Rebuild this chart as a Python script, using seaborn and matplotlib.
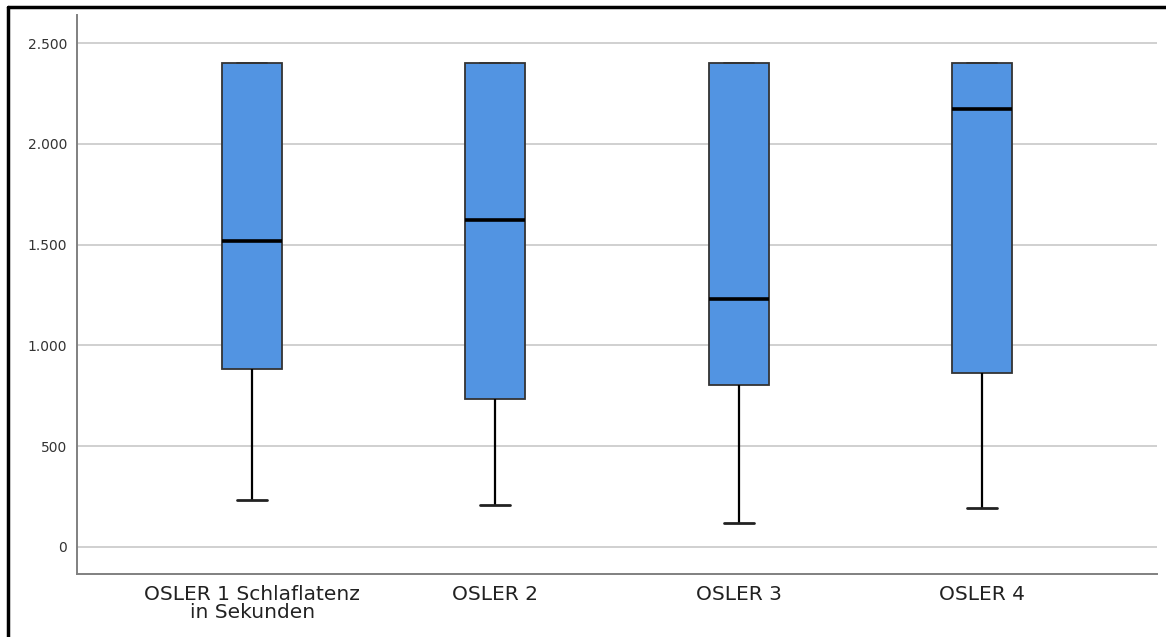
import numpy as np
import pandas as pd
import matplotlib
matplotlib.use("Agg")
import matplotlib.pyplot as plt
import matplotlib.ticker as mticker
from matplotlib.lines import Line2D
import seaborn as sns

# Five-number summaries (seconds)
categories = ["OSLER 1 Schlaflatenz\nin Sekunden", "OSLER 2", "OSLER 3", "OSLER 4"]
minimum = [233, 208, 119, 193]
q1 = [883, 736, 804, 863]
median = [1518, 1620, 1230, 2173]
q3 = [2400, 2400, 2400, 2400]
maximum = [2400, 2400, 2400, 2400]
y_ticks = [0, 500, 1000, 1500, 2000, 2500]

rows = []
for i, c in enumerate(categories):
    for v in (minimum[i], q1[i], median[i], q3[i], maximum[i]):
        rows.append({"group": c, "value": v})
df = pd.DataFrame(rows)

sns.set_style("white")
plt.rcParams["font.family"] = ["DejaVu Sans"]

fig = plt.figure(figsize=(11.66, 6.37), dpi=100)
ax = fig.add_axes([77 / 1166, 1 - 574 / 637, (1157 - 77) / 1166, (574 - 15) / 637])

sns.boxplot(
    data=df, x="group", y="value", order=categories, ax=ax,
    whis=np.inf, width=0.247, color="#5294e2", saturation=1,
    linecolor="#222222", linewidth=1.3,
    boxprops=dict(facecolor="#5294e2", edgecolor="#333333", linewidth=1.3),
    medianprops=dict(color="black", linewidth=2.6),
    whiskerprops=dict(color="black", linewidth=1.6),
    capprops=dict(color="#222222", linewidth=2.0),
    capwidths=0.123,
    zorder=3,
)

# top caps coincide with the box edge and look thinner in the reference
for ln in ax.lines:
    yd = np.asarray(ln.get_ydata(), dtype=float)
    xd = np.asarray(ln.get_xdata(), dtype=float)
    if len(yd) == 2 and yd[0] == yd[1] and yd[0] >= 2399 and abs(xd[1] - xd[0]) < 0.2:
        ln.set_linewidth(1.3)
        ln.set_color("#333333")

ax.set_xlim(-0.72, 3.72)
ax.set_ylim(-134, 2639)
ax.set_yticks(y_ticks)
ax.yaxis.set_major_formatter(mticker.FuncFormatter(lambda v, p: f"{int(v):,}".replace(",", ".")))
ax.grid(axis="y", color="#c8c8c8", linewidth=1.2, zorder=0)
ax.set_axisbelow(True)
ax.set_xlabel("")
ax.set_ylabel("")
for s in ("top", "right"):
    ax.spines[s].set_visible(False)
for s in ("left", "bottom"):
    ax.spines[s].set_color("#808080")
    ax.spines[s].set_linewidth(1.4)
ax.tick_params(axis="y", length=0, pad=7, labelsize=10, labelcolor="#333333")
ax.tick_params(axis="x", length=0, pad=8, labelsize=14.5, labelcolor="#222222")
for lbl in ax.get_xticklabels():
    lbl.set_linespacing(0.9)

# outer frame (left and top edges visible in the reference)
fig.add_artist(Line2D([8 / 1166, 8 / 1166], [0, 1 - 7 / 637], transform=fig.transFigure, color="black", linewidth=2.5))
fig.add_artist(Line2D([8 / 1166, 1], [1 - 7 / 637, 1 - 7 / 637], transform=fig.transFigure, color="black", linewidth=2.5))

fig.savefig("out.png", dpi=100)
